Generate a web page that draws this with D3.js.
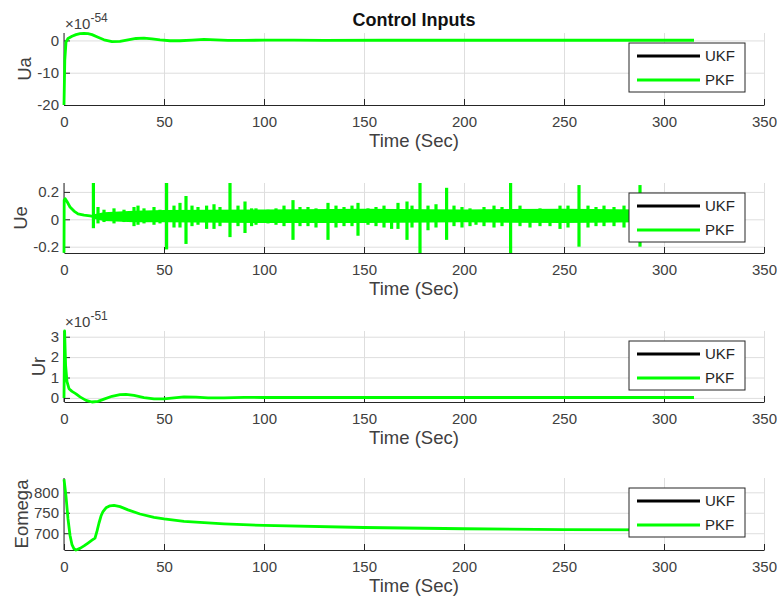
<!DOCTYPE html>
<html>
<head>
<meta charset="utf-8">
<title>Control Inputs</title>
<script src="https://cdn.jsdelivr.net/npm/d3@7"></script>
<style>
  body { margin: 0; background: #fff; }
  svg { display: block; font-family: "Liberation Sans", Arial, sans-serif; }
  .grid line { stroke: #dedede; stroke-width: 1; }
  .grid path { display: none; }
  .axis path, .axis line { stroke: #262626; stroke-width: 1; }
  .axis text { fill: #404040; font-size: 15px; font-family: "Liberation Sans", Arial, sans-serif; }
  .label { fill: #404040; font-size: 18.5px; }
  .trace { fill: none; stroke: #00ff00; stroke-width: 2.8; stroke-linejoin: round; }
  .spike { stroke: #00ff00; stroke-width: 3.2; }
</style>
</head>
<body>
<svg id="chart" width="777" height="604"></svg>
<script>
// data
timeTicks = [0, 50, 100, 150, 200, 250, 300, 350];
seriesNames = ["UKF", "PKF"];

// Ua, in units of 1e-54
uaTicks = [-20, -10, 0];
uaT = [0, 0.4, 1, 2, 4, 6, 8, 10, 12, 14, 17, 20, 24, 28, 32, 36, 40, 44, 48, 53, 58, 64, 70, 76, 82, 90, 100, 115, 130, 160, 200, 250, 315];
uaV = [-20, -6, -0.5, 0.6, 1.3, 1.8, 2.1, 2.2, 2.1, 1.8, 1.0, 0.2, -0.4, -0.3, 0.2, 0.6, 0.7, 0.5, 0.2, -0.1, -0.1, 0.1, 0.3, 0.2, 0, 0, 0.1, 0.1, 0, 0.05, 0.05, 0.05, 0.05];

// Ue
ueTicks = [-0.2, 0, 0.2];
ueInitT = [0, 0.1, 0.6, 1.5, 3, 5, 7, 10, 13, 15];
ueInitV = [-0.245, 0.14, 0.15, 0.13, 0.09, 0.06, 0.04, 0.03, 0.025, 0.02];
ueBandT = [15, 20, 35, 50, 100, 150, 200, 250, 290, 315];
ueBandHi = [0.03, 0.045, 0.055, 0.06, 0.065, 0.07, 0.065, 0.07, 0.065, 0.055];
ueBandLo = [0.01, -0.005, -0.015, -0.015, -0.02, -0.02, -0.015, -0.02, -0.015, -0.005];
ueSpikeT = [14.7, 17, 20, 25, 30, 35, 37, 40, 45, 48, 51.3, 55, 58, 61, 64, 67, 71.3, 75, 78, 83, 87, 90.5, 93.8, 96, 102, 106, 110, 114.5, 118, 122, 126, 132, 136, 140, 144, 147, 152, 156, 160, 163.8, 167, 171.5, 174, 178, 182, 186, 191.3, 195, 199, 203, 206, 210, 215, 219, 223.3, 228, 233, 238, 243, 248, 252, 257.5, 262, 266, 270, 275, 280, 284, 288, 292, 296, 300, 305, 310];
ueSpikeHi = [0.265, 0.09, 0.07, 0.08, 0.07, 0.09, 0.1, 0.08, 0.09, 0.07, 0.265, 0.1, 0.12, 0.17, 0.1, 0.09, 0.1, 0.11, 0.09, 0.265, 0.1, 0.13, 0.08, 0.08, 0.07, 0.08, 0.1, 0.14, 0.09, 0.09, 0.08, 0.12, 0.1, 0.09, 0.1, 0.12, 0.08, 0.09, 0.1, 0.05, 0.12, 0.13, 0.1, 0.265, 0.1, 0.11, 0.23, 0.1, 0.09, 0.08, 0.06, 0.09, 0.1, 0.09, 0.265, 0.1, 0.06, 0.08, 0.07, 0.1, 0.1, 0.25, 0.1, 0.09, 0.1, 0.09, 0.1, 0.09, 0.25, 0.09, 0.08, 0.09, 0.08, 0.07];
ueSpikeLo = [-0.065, -0.03, -0.02, -0.03, -0.02, -0.05, -0.04, -0.03, -0.04, -0.03, -0.22, -0.06, -0.06, -0.18, -0.05, -0.04, -0.07, -0.07, -0.05, -0.13, -0.05, -0.1, -0.05, -0.04, -0.03, -0.04, -0.05, -0.15, -0.05, -0.05, -0.06, -0.15, -0.06, -0.05, -0.05, -0.12, -0.04, -0.05, -0.06, -0.07, -0.07, -0.15, -0.06, -0.246, -0.08, -0.06, -0.15, -0.05, -0.06, -0.05, -0.04, -0.05, -0.06, -0.05, -0.246, -0.05, -0.06, -0.05, -0.05, -0.07, -0.06, -0.2, -0.06, -0.05, -0.05, -0.05, -0.06, -0.05, -0.2, -0.05, -0.04, -0.04, -0.04, -0.03];

// Ur, in units of 1e-51
urTicks = [0, 1, 2, 3];
urT = [0, 0.3, 0.8, 1.5, 2.5, 4, 6, 8, 11, 14, 17, 20, 24, 28, 31, 35, 40, 45, 50, 55, 60, 66, 72, 80, 90, 100, 130, 200, 315];
urV = [0, 3.28, 1.6, 0.8, 0.45, 0.32, 0.2, 0.05, -0.12, -0.2, -0.17, -0.06, 0.08, 0.16, 0.17, 0.12, 0.02, -0.05, -0.05, 0, 0.05, 0.04, 0, 0, 0.03, 0.02, 0.02, 0.02, 0.02];

// Eomega
eoTicks = [700, 750, 800];
eoT = [0, 1, 2, 3, 4, 5, 6, 8, 10, 12, 14, 15.5, 16.5, 17.5, 18.5, 19.5, 21, 23, 25, 28, 32, 38, 45, 50, 60, 80, 100, 150, 200, 250, 300, 315];
eoV = [832, 790, 735, 695, 672, 662, 659, 663, 669, 676, 683, 688, 705, 725, 742, 753, 762, 767, 768, 765, 757, 747, 739, 735, 729, 723, 719, 714, 711, 709, 708, 708];

// chart
svg = d3.select("#chart");
x = d3.scaleLinear().domain([0, 350]).range([64, 764]);

panels = [
  { name: "Ua", top: 33, bottom: 105, domain: [-20, 2.3], ticks: uaTicks, exponent: "-54", t: uaT, v: uaV },
  { name: "Ue", top: 183, bottom: 253, domain: [-0.246, 0.265], ticks: ueTicks },
  { name: "Ur", top: 331, bottom: 402, domain: [-0.2, 3.28], ticks: urTicks, exponent: "-51", t: urT, v: urV },
  { name: "Eomega", top: 478, bottom: 550, domain: [659, 835], ticks: eoTicks, t: eoT, v: eoV }
];

svg.append("text")
  .attr("x", 414)
  .attr("y", 26)
  .attr("text-anchor", "middle")
  .style("font-size", "18px")
  .style("font-weight", "bold")
  .style("fill", "#111")
  .text("Control Inputs");

panels.forEach(p => {
  let y = d3.scaleLinear().domain(p.domain).range([p.bottom, p.top]);
  let g = svg.append("g");

  // grid
  g.append("g")
    .attr("class", "grid")
    .attr("transform", "translate(0," + p.bottom + ")")
    .call(d3.axisBottom(x).tickValues(timeTicks).tickSize(p.top - p.bottom).tickFormat(""));
  g.append("g")
    .attr("class", "grid")
    .attr("transform", "translate(" + x(0) + ",0)")
    .call(d3.axisLeft(y).tickValues(p.ticks).tickSize(x(0) - x(350)).tickFormat(""));

  // axes
  g.append("g")
    .attr("class", "axis")
    .attr("transform", "translate(0," + p.bottom + ")")
    .call(d3.axisBottom(x).tickValues(timeTicks).tickSizeInner(-6).tickSizeOuter(0).tickPadding(11).tickFormat(d => d));
  let yAxisG = g.append("g")
    .attr("class", "axis")
    .attr("transform", "translate(" + x(0) + ",0)")
    .call(d3.axisLeft(y).tickValues(p.ticks).tickSizeInner(-6).tickSizeOuter(0).tickPadding(5).tickFormat(d => String(d)));
  yAxisG.select(".domain").attr("d", "M0," + p.bottom + "V" + p.top);

  let tickWidth = d3.max(yAxisG.selectAll(".tick text").nodes(), n => n.getBBox().width);

  g.append("text")
    .attr("class", "label")
    .attr("transform", "translate(" + (x(0) - 5 - tickWidth - 6) + "," + ((p.top + p.bottom) / 2) + ") rotate(-90)")
    .attr("text-anchor", "middle")
    .text(p.name);

  g.append("text")
    .attr("class", "label")
    .attr("x", 414)
    .attr("y", p.bottom + 42)
    .attr("text-anchor", "middle")
    .text("Time (Sec)");

  if (p.exponent) {
    let ex = g.append("text")
      .attr("x", x(0) + 1)
      .attr("y", p.top - 4)
      .style("font-size", "15px")
      .style("fill", "#404040");
    ex.append("tspan").text("\u00d710");
    ex.append("tspan").attr("dy", -7).style("font-size", "12px").text(p.exponent);
  }

  // data
  let line = d3.line().x(d => x(d[0])).y(d => y(d[1]));
  if (p.name == "Ue") {
    let band = ueBandT.map((t, i) => [t, ueBandLo[i], ueBandHi[i]]);
    g.append("path")
      .datum(band)
      .attr("d", d3.area().x(d => x(d[0])).y0(d => y(d[1])).y1(d => y(d[2])))
      .style("fill", "#00ff00")
      .style("stroke", "#00ff00")
      .style("stroke-width", 2);
    g.selectAll(".spike")
      .data(ueSpikeT.map((t, i) => [t, ueSpikeLo[i], ueSpikeHi[i]]))
      .enter().append("line")
        .attr("class", "spike")
        .attr("x1", d => x(d[0]))
        .attr("x2", d => x(d[0]))
        .attr("y1", d => y(d[1]))
        .attr("y2", d => y(d[2]));
    g.append("path")
      .datum(ueInitT.map((t, i) => [t, ueInitV[i]]))
      .attr("class", "trace")
      .attr("d", line);
  } else {
    g.append("path")
      .datum(p.t.map((t, i) => [t, p.v[i]]))
      .attr("class", "trace")
      .attr("d", line);
  }

  // legend
  let lg = g.append("g").attr("transform", "translate(629," + (p.top + 10) + ")");
  lg.append("rect")
    .attr("width", 116)
    .attr("height", 49)
    .style("fill", "#fff")
    .style("stroke", "#262626")
    .style("stroke-width", 1);
  seriesNames.forEach((s, i) => {
    lg.append("line")
      .attr("x1", 8).attr("x2", 71)
      .attr("y1", 13 + i * 24).attr("y2", 13 + i * 24)
      .style("stroke", i == 0 ? "#000" : "#00ff00")
      .style("stroke-width", 3);
    lg.append("text")
      .attr("x", 76)
      .attr("y", 13 + i * 24)
      .attr("dy", "0.36em")
      .style("font-size", "15px")
      .style("fill", "#262626")
      .text(s);
  });
});
</script>
</body>
</html>
